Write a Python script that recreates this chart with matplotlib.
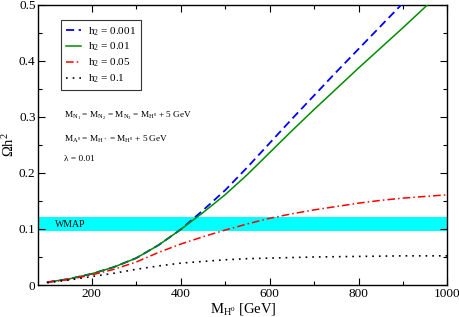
import matplotlib
matplotlib.use("Agg")
import matplotlib.pyplot as plt
from matplotlib.ticker import FixedLocator, FuncFormatter

plt.rcParams['font.family'] = ['Liberation Serif', 'DejaVu Serif']
plt.rcParams['mathtext.fontset'] = 'custom'
plt.rcParams['mathtext.rm'] = 'Liberation Serif'
plt.rcParams['mathtext.it'] = 'Liberation Serif:italic'
plt.rcParams['mathtext.default'] = 'regular'

# Data
mass = [100, 150, 200, 250, 300, 350, 400, 450, 500, 550, 600, 650, 700, 750, 800, 850, 900, 950, 1000]
omega_h001 = [0.005, 0.011, 0.020, 0.032, 0.048, 0.071, 0.099, 0.133, 0.169, 0.210, 0.253, 0.296, 0.338, 0.380, 0.421, 0.462, 0.503, 0.543, 0.584]
omega_h01 = [0.005, 0.011, 0.020, 0.032, 0.048, 0.071, 0.099, 0.129, 0.161, 0.197, 0.236, 0.275, 0.313, 0.350, 0.387, 0.423, 0.459, 0.496, 0.532]
omega_h05 = [0.005, 0.010, 0.018, 0.028, 0.041, 0.058, 0.073, 0.086, 0.098, 0.109, 0.119, 0.127, 0.134, 0.140, 0.146, 0.151, 0.155, 0.158, 0.161]
omega_h1 = [0.004, 0.009, 0.015, 0.021, 0.028, 0.034, 0.039, 0.042, 0.045, 0.047, 0.048, 0.049, 0.050, 0.0505, 0.051, 0.0515, 0.052, 0.052, 0.052]
labels = ['h$_2$ = 0.001', 'h$_2$ = 0.01', 'h$_2$ = 0.05', 'h$_2$ = 0.1']
wmap_band = (0.096, 0.122)

fig = plt.figure(figsize=(4.6, 3.17), dpi=100)
ax = fig.add_axes([0.0833, 0.1009, 0.8895, 0.8843])

ax.axhspan(wmap_band[0], wmap_band[1], color='#00ffff', lw=0, zorder=1)
ax.text(117, 0.108, 'WMAP', fontsize=7, va='center', ha='left', zorder=2)

ax.plot(mass, omega_h001, color='#0000ff', lw=1.3, dashes=(4.5, 2.5), label=labels[0], zorder=3)
ax.plot(mass, omega_h01, color='#008c00', lw=1.1, label=labels[1], zorder=3)
ax.plot(mass, omega_h05, color='#ff0000', lw=1.1, dashes=(5, 2, 1, 2), label=labels[2], zorder=3)
ax.plot(mass, omega_h1, color='black', lw=1.2, dashes=(1, 3), label=labels[3], zorder=3)

ax.set_xlim(80, 1000)
ax.set_ylim(0, 0.5)
ax.xaxis.set_major_locator(FixedLocator([200, 400, 600, 800, 1000]))
ax.xaxis.set_minor_locator(FixedLocator([300, 500, 700, 900]))
ax.yaxis.set_major_locator(FixedLocator([0, 0.1, 0.2, 0.3, 0.4, 0.5]))
ax.yaxis.set_minor_locator(FixedLocator([0.05, 0.15, 0.25, 0.35, 0.45]))
ax.yaxis.set_major_formatter(FuncFormatter(lambda v, p: '0' if v == 0 else '%.1f' % v))
ax.tick_params(which='both', direction='in', top=True, right=True, labelsize=9.5, pad=2)
ax.tick_params(which='major', length=5, width=0.8)
ax.tick_params(which='minor', length=3, width=0.8)
for s in ax.spines.values():
    s.set_linewidth(1.0)

ax.set_xlabel('M$_{H^0}$ [GeV]', fontsize=10.5, labelpad=1)
ax.set_ylabel('$\\Omega h^2$', fontsize=10.5, labelpad=1)

leg = ax.legend(loc='upper left', bbox_to_anchor=(0.055, 0.945), fontsize=8, frameon=True,
                fancybox=False, edgecolor='black', handlelength=1.4, handletextpad=0.6,
                borderpad=0.45, labelspacing=0.3, borderaxespad=0)
leg.get_frame().set_linewidth(0.8)

ax.text(0.062, 0.604, 'M$_{N_1}$ = M$_{N_2}$ = M$_{N_3}$ = M$_{H^0}$ + 5 GeV', transform=ax.transAxes, fontsize=6.7, va='center')
ax.text(0.062, 0.52, 'M$_{A^0}$ = M$_{H^+}$ = M$_{H^0}$ + 5 GeV', transform=ax.transAxes, fontsize=6.7, va='center')
ax.text(0.062, 0.448, 'λ = 0.01', transform=ax.transAxes, fontsize=6.7, va='center')

fig.savefig('out.png', dpi=100)
